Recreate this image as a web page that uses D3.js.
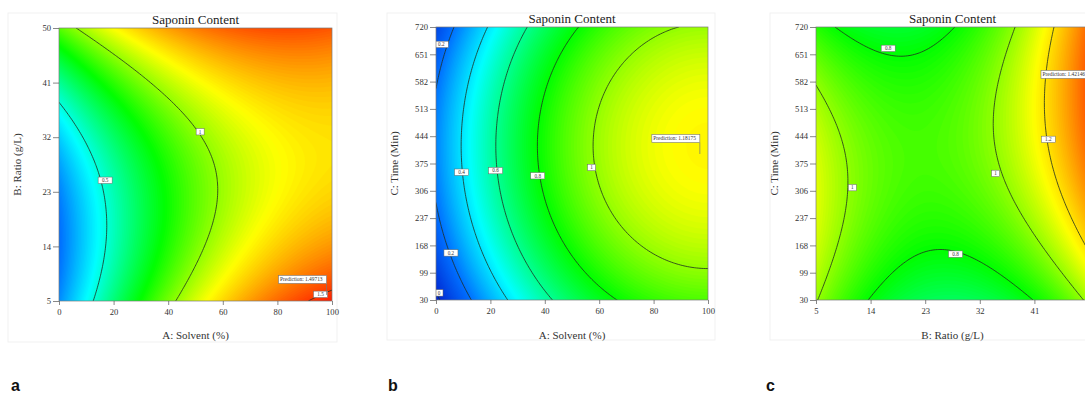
<!DOCTYPE html>
<html>
<head>
<meta charset="utf-8">
<script src="https://cdn.jsdelivr.net/npm/d3@7"></script>
<style>
  body { margin: 0; background: #fff; }
  svg { display: block; font-family: "Liberation Serif", "Times New Roman", serif; }
</style>
</head>
<body>
<div id="viz"></div>
<script>
// -----------------------------
// DATA
// -----------------------------
const TITLE = "Saponin Content";
const PANEL_LETTERS = ["a", "b", "c"];

// panel a : A solvent (x) vs B ratio (y)
const aXLabel = "A: Solvent (%)";
const aYLabel = "B: Ratio (g/L)";
const aXTicks = [0, 20, 40, 60, 80, 100];
const aYTicks = [5, 14, 23, 32, 41, 50];
// quadratic model in coded units: const, x, y, xy, x², y²
const aCoef = [0.941, 0.4575, 0.1425, -0.1925, -0.1986, 0.3];
const aLevels = [0.5, 1, 1.5];
const aLabels = [[0.5, 16.9, 24.9], [1, 51.7, 32.9], [1.5, 95.8, 6.1]];
const aPrediction = [98, 6, "1.49713"];

// panel b : A solvent (x) vs C time (y)
const bXLabel = "A: Solvent (%)";
const bYLabel = "C: Time (Min)";
const bXTicks = [0, 20, 40, 60, 80, 100];
const bYTicks = [30, 99, 168, 237, 306, 375, 444, 513, 582, 651, 720];
const bCoef = [0.93, 0.465, 0.0533, 0, -0.2325, -0.205];
const bLevels = [0, 0.2, 0.4, 0.6, 0.8, 1];
const bLabels = [[0.2, 1.95, 676], [0.4, 9.4, 353], [0.6, 21.9, 357], [0.8, 37.4, 344],
                 [1, 57.2, 365], [0.2, 5.5, 149], [0, 1.1, 48]];
const bPrediction = [97, 399, "1.18175"];

// panel c : B ratio (x) vs C time (y)
const cXLabel = "B: Ratio (g/L)";
const cYLabel = "C: Time (Min)";
const cXTicks = [5, 14, 23, 32, 41, 50];
const cYTicks = [30, 99, 168, 237, 306, 375, 444, 513, 582, 651, 720];
const cCoef = [0.91, 0.1495, 0.06, 0.14, 0.343, -0.175];
const cLevels = [0.8, 1, 1.2];
const cLabels = [[0.8, 16.9, 666], [1, 11.0, 314], [1, 34.6, 350], [1.2, 43.3, 436], [0.8, 28.0, 146]];
const cPrediction = [50, 561, "1.42146"];

// colour ramp of the response (blue -> cyan -> green -> yellow -> red)
const COLOR_STOPS = [-0.05, 0.2, 0.45, 0.8, 1.15, 1.6];
const COLOR_RAMP = ["#0018c8", "#0070ff", "#00ffff", "#00ff00", "#ffff00", "#ff0000"];

// -----------------------------
// LAYOUT
// -----------------------------
const W = 1085, H = 394;

const panels = [
  { xLabel: aXLabel, yLabel: aYLabel, xTicks: aXTicks, yTicks: aYTicks, coef: aCoef,
    levels: aLevels, labels: aLabels, pred: aPrediction,
    left: 59, top: 28, w: 273, h: 273, frame: [8, 13, 329, 329], letterX: 11 },
  { xLabel: bXLabel, yLabel: bYLabel, xTicks: bXTicks, yTicks: bYTicks, coef: bCoef,
    levels: bLevels, labels: bLabels, pred: bPrediction,
    left: 436, top: 27, w: 272, h: 273, frame: [387, 13, 328, 327], letterX: 388 },
  { xLabel: cXLabel, yLabel: cYLabel, xTicks: cXTicks, yTicks: cYTicks, coef: cCoef,
    levels: cLevels, labels: cLabels, pred: cPrediction,
    left: 816, top: 27, w: 273, h: 273, frame: [770, 13, 330, 327], letterX: 766 }
];

const color = d3.scaleLinear().domain(COLOR_STOPS).range(COLOR_RAMP).clamp(true);

const svg = d3.select("#viz")
  .append("svg")
  .attr("width", W)
  .attr("height", H);

function model(c, u, v) {
  return c[0] + c[1] * u + c[2] * v + c[3] * u * v + c[4] * u * u + c[5] * v * v;
}

// -----------------------------
// PANEL
// -----------------------------
function drawPanel(p, k) {
  const g = svg.append("g");
  const xDom = d3.extent(p.xTicks), yDom = d3.extent(p.yTicks);

  g.append("rect")
    .attr("x", p.frame[0]).attr("y", p.frame[1])
    .attr("width", p.frame[2]).attr("height", p.frame[3])
    .attr("fill", "none").attr("stroke", "#f1f1f1");

  const x = d3.scaleLinear().domain(xDom).range([p.left, p.left + p.w]);
  const y = d3.scaleLinear().domain(yDom).range([p.top + p.h, p.top]);

  // coded units
  const ux = d3.scaleLinear().domain(xDom).range([-1, 1]);
  const uy = d3.scaleLinear().domain(yDom).range([-1, 1]);

  const n = 120, m = 120;
  const gx = d3.scaleLinear().domain([0.5, n - 0.5]).range(xDom);
  const gy = d3.scaleLinear().domain([0.5, m - 0.5]).range([yDom[1], yDom[0]]);
  const values = new Array(n * m);
  for (let j = 0; j < m; j++) {
    for (let i = 0; i < n; i++) {
      values[j * n + i] = model(p.coef, ux(gx(i + 0.5)), uy(gy(j + 0.5)));
    }
  }

  const path = d3.geoPath(d3.geoTransform({
    point(px, py) { this.stream.point(x(gx(px)), y(gy(py))); }
  }));

  const clipId = "clip" + k;
  g.append("clipPath").attr("id", clipId)
    .append("rect")
    .attr("x", p.left).attr("y", p.top).attr("width", p.w).attr("height", p.h);

  const plot = g.append("g").attr("clip-path", `url(#${clipId})`);

  // filled surface
  const [vmin, vmax] = d3.extent(values);
  const step = 0.01;
  const fillLevels = d3.range(Math.ceil(vmin / step) * step, vmax, step);

  plot.append("rect")
    .attr("x", p.left).attr("y", p.top).attr("width", p.w).attr("height", p.h)
    .attr("fill", color(vmin));

  plot.selectAll("path.band")
    .data(d3.contours().size([n, m]).thresholds(fillLevels)(values))
    .join("path")
    .attr("class", "band")
    .attr("d", path)
    .attr("fill", d => color(d.value + step / 2));

  // contour lines
  plot.selectAll("path.iso")
    .data(d3.contours().size([n, m]).thresholds(p.levels)(values))
    .join("path")
    .attr("class", "iso")
    .attr("d", path)
    .attr("fill", "none")
    .attr("stroke", "#1f2f1f")
    .attr("stroke-width", 0.8);

  // contour labels
  const lab = plot.selectAll("g.lab")
    .data(p.labels)
    .join("g")
    .attr("class", "lab")
    .attr("transform", d => `translate(${x(d[1])},${y(d[2])})`);
  lab.append("rect")
    .attr("x", d => -(String(d[0]).length * 1.5 + 2.5))
    .attr("y", -3.2)
    .attr("width", d => String(d[0]).length * 3 + 5)
    .attr("height", 6.4)
    .attr("fill", "#fff")
    .attr("stroke", "#666")
    .attr("stroke-width", 0.5);
  lab.append("text")
    .attr("text-anchor", "middle")
    .attr("dy", "0.35em")
    .attr("font-size", 5.2)
    .attr("fill", "#333")
    .text(d => d[0]);

  // prediction flag
  const px = x(p.pred[0]), py = y(p.pred[1]);
  const flag = g.append("g");
  flag.append("line")
    .attr("x1", px).attr("x2", px)
    .attr("y1", py - 11.5).attr("y2", py)
    .attr("stroke", "#777").attr("stroke-width", 0.7);
  flag.append("rect")
    .attr("x", px - 48).attr("y", py - 19.5)
    .attr("width", 48).attr("height", 8)
    .attr("fill", "#fff").attr("stroke", "#777").attr("stroke-width", 0.6);
  flag.append("text")
    .attr("x", px - 46.5).attr("y", py - 13.6)
    .attr("font-size", 5.4)
    .attr("fill", "#333")
    .text("Prediction: " + p.pred[2]);

  // plot border
  g.append("rect")
    .attr("x", p.left).attr("y", p.top).attr("width", p.w).attr("height", p.h)
    .attr("fill", "none").attr("stroke", "#7a7a7a").attr("stroke-width", 0.7);

  // axes
  const ax = g.append("g")
    .attr("transform", `translate(0,${p.top + p.h})`)
    .call(d3.axisBottom(x).tickValues(p.xTicks).tickSize(4).tickSizeOuter(0).tickPadding(4));
  const ay = g.append("g")
    .attr("transform", `translate(${p.left},0)`)
    .call(d3.axisLeft(y).tickValues(p.yTicks).tickSize(6).tickSizeOuter(0).tickPadding(2));
  [ax, ay].forEach(a => {
    a.select(".domain").remove();
    a.attr("font-family", null).attr("font-size", null);
    a.selectAll("line").attr("stroke", "#555").attr("stroke-width", 0.7);
    a.selectAll("text").attr("font-size", 8.6).attr("fill", "#333");
  });

  // titles
  const cx = p.left + p.w / 2;
  g.append("text")
    .attr("x", cx).attr("y", p.top - 4.5)
    .attr("text-anchor", "middle")
    .attr("font-size", 13)
    .attr("fill", "#222")
    .text(TITLE);
  g.append("text")
    .attr("x", cx).attr("y", 339)
    .attr("text-anchor", "middle")
    .attr("font-size", 11)
    .attr("fill", "#333")
    .text(p.xLabel);
  g.append("text")
    .attr("transform", `translate(${p.left - 38},${p.top + p.h / 2}) rotate(-90)`)
    .attr("text-anchor", "middle")
    .attr("font-size", 11)
    .attr("fill", "#333")
    .text(p.yLabel);

  // panel letter
  svg.append("text")
    .attr("x", p.letterX).attr("y", 391)
    .attr("font-family", "'Liberation Sans', Arial, sans-serif")
    .attr("font-weight", "bold")
    .attr("font-size", 16)
    .attr("fill", "#111")
    .text(PANEL_LETTERS[k]);
}

panels.forEach(drawPanel);
</script>
</body>
</html>
